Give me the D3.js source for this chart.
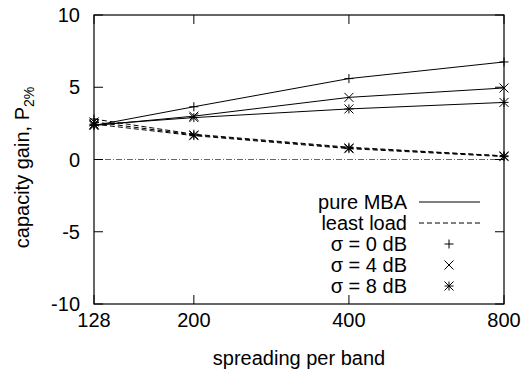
<!DOCTYPE html>
<html>
<head>
<meta charset="utf-8">
<script src="https://cdn.jsdelivr.net/npm/d3@7"></script>
<style>
  body { margin: 0; background: #fff; }
  svg text { font-family: "Liberation Sans", Arial, sans-serif; fill: #000; }
</style>
</head>
<body>
<div id="chart"></div>
<script>
// spreading factor per band (x) and capacity gain (y)
const spreading = [128, 200, 400, 800];
const xTicks = [128, 200, 400, 800];
const yTicks = [-10, -5, 0, 5, 10];

const pureMBA_s0 = [2.35, 3.65, 5.6, 6.75];
const pureMBA_s4 = [2.35, 3.0, 4.3, 4.95];
const pureMBA_s8 = [2.4, 2.9, 3.5, 3.95];
const leastLoad_s0 = [2.8, 1.75, 0.85, 0.25];
const leastLoad_s4 = [2.6, 1.7, 0.8, 0.25];
const leastLoad_s8 = [2.45, 1.65, 0.75, 0.2];

const legendLines = ["pure MBA", "least load"];
const legendPoints = ["σ = 0 dB", "σ = 4 dB", "σ = 8 dB"];

const W = 523, H = 371;
let margin = { top: 15, right: 19, bottom: 67, left: 94 };
let width = W - margin.left - margin.right,
    height = H - margin.top - margin.bottom;

var svg = d3.select("#chart").
append("svg").
attr("width", W).
attr("height", H).
append("g").
attr("transform", "translate(" + margin.left + "," + margin.top + ")");

var x = d3.scaleLog().domain([128, 800]).range([0, width]);
var y = d3.scaleLinear().domain([-10, 10]).range([height, 0]);

const fontSize = 20;
const tickLen = 9;

// zero line, dash-dot
svg.append("line").
attr("x1", 0).attr("x2", width).
attr("y1", y(0)).attr("y2", y(0)).
attr("stroke", "#666").
attr("stroke-width", 1).
attr("stroke-dasharray", "6,2,1,2");

// markers
function drawMarker(g, kind, cx, cy, r) {
    let p = "";
    if (kind === "plus" || kind === "star") {
        p += "M" + (cx - r) + "," + cy + "H" + (cx + r) + "M" + cx + "," + (cy - r) + "V" + (cy + r);
    }
    if (kind === "cross" || kind === "star") {
        p += "M" + (cx - r) + "," + (cy - r) + "L" + (cx + r) + "," + (cy + r) +
             "M" + (cx - r) + "," + (cy + r) + "L" + (cx + r) + "," + (cy - r);
    }
    g.append("path").attr("d", p).attr("stroke", "#000").attr("stroke-width", 1).attr("fill", "none");
}

const series = [
    { vals: pureMBA_s0, dash: null, mark: "plus" },
    { vals: pureMBA_s4, dash: null, mark: "cross" },
    { vals: pureMBA_s8, dash: null, mark: "star" },
    { vals: leastLoad_s0, dash: "5,3", mark: "plus" },
    { vals: leastLoad_s4, dash: "5,3", mark: "cross" },
    { vals: leastLoad_s8, dash: "5,3", mark: "star" }
];

var line = d3.line().
x((d, i) => x(spreading[i])).
y(d => y(d));

series.forEach(s => {
    svg.append("path").
    datum(s.vals).
    attr("d", line).
    attr("fill", "none").
    attr("stroke", "#000").
    attr("stroke-width", 1).
    attr("stroke-dasharray", s.dash);
    s.vals.forEach((v, i) => drawMarker(svg, s.mark, x(spreading[i]), y(v), 4.5));
});

// frame
svg.append("rect").
attr("x", 0).attr("y", 0).
attr("width", width).attr("height", height).
attr("fill", "none").
attr("stroke", "#000").
attr("stroke-width", 1.2);

// x ticks (bottom + mirrored top)
xTicks.forEach(t => {
    svg.append("line").attr("x1", x(t)).attr("x2", x(t)).attr("y1", height).attr("y2", height - tickLen).attr("stroke", "#000");
    svg.append("line").attr("x1", x(t)).attr("x2", x(t)).attr("y1", 0).attr("y2", tickLen).attr("stroke", "#000");
    svg.append("text").
    attr("x", x(t)).
    attr("y", height + 23).
    attr("text-anchor", "middle").
    style("font-size", fontSize + "px").
    text(t);
});

// y ticks (left + mirrored right)
yTicks.forEach(t => {
    svg.append("line").attr("x1", 0).attr("x2", tickLen).attr("y1", y(t)).attr("y2", y(t)).attr("stroke", "#000");
    svg.append("line").attr("x1", width).attr("x2", width - tickLen).attr("y1", y(t)).attr("y2", y(t)).attr("stroke", "#000");
    svg.append("text").
    attr("x", -14).
    attr("y", y(t) + 7).
    attr("text-anchor", "end").
    style("font-size", fontSize + "px").
    text(t);
});

// axis titles
svg.append("text").
attr("x", width / 2).
attr("y", height + 61).
attr("text-anchor", "middle").
style("font-size", fontSize + "px").
text("spreading per band");

var ylab = svg.append("text").
attr("transform", "translate(" + (29 - margin.left) + "," + (height / 2 + 8) + ") rotate(-90)").
attr("text-anchor", "middle").
style("font-size", fontSize + "px");
ylab.append("tspan").text("capacity gain, P");
ylab.append("tspan").attr("dy", 5).style("font-size", "14px").text("2%");

// legend
const legX = 313, legY0 = 187, legStep = 21;
legendLines.forEach((lab, i) => {
    let ly = legY0 + i * legStep;
    svg.append("text").attr("x", legX).attr("y", ly + 7).attr("text-anchor", "end").style("font-size", fontSize + "px").text(lab);
    svg.append("line").
    attr("x1", legX + 12).attr("x2", legX + 73).
    attr("y1", ly).attr("y2", ly).
    attr("stroke", "#000").
    attr("stroke-dasharray", i === 1 ? "5,3" : null);
});
const legMarks = ["plus", "cross", "star"];
legendPoints.forEach((lab, i) => {
    let ly = legY0 + (i + 2) * legStep;
    svg.append("text").attr("x", legX).attr("y", ly + 7).attr("text-anchor", "end").style("font-size", fontSize + "px").text(lab);
    drawMarker(svg, legMarks[i], legX + 42, ly, 4.5);
});
</script>
</body>
</html>
